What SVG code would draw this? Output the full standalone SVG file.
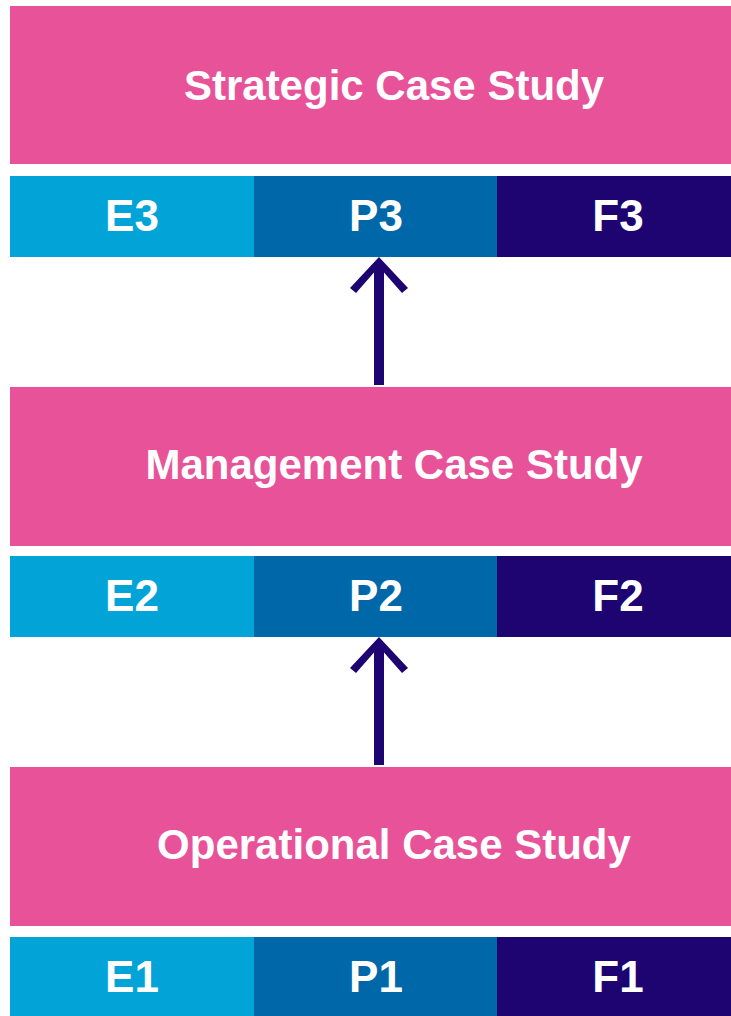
<svg xmlns="http://www.w3.org/2000/svg" width="731" height="1016" viewBox="0 0 731 1016">
<style>
.pink{fill:#E85299}
.e{fill:#02A4D8}
.p{fill:#0068A9}
.f{fill:#1E0471}
.t{font-family:"Liberation Sans",Arial,sans-serif;font-weight:bold;fill:#FFFFFF;text-anchor:middle}
.big{font-size:42px}
.small{font-size:44px}
.arrow{fill:#1E0471}
</style>
<defs>
<path id="arr" d="M379,0 L408,31 L402,36 L384,15.5 L384,128 L374,128 L374,15.5 L356,36 L350,31 Z"/>
</defs>
<rect width="731" height="1016" fill="#FFFFFF"/>
<g id="strategic">
<rect class="pink" x="10" y="6" width="721" height="158"/>
<text class="t big" x="394" y="100">Strategic Case Study</text>
</g>
<g id="level3">
<rect class="e" x="10" y="176" width="244" height="81"/>
<rect class="p" x="254" y="176" width="243" height="81"/>
<rect class="f" x="497" y="176" width="234" height="81"/>
<text class="t small" x="132" y="231">E3</text>
<text class="t small" x="376" y="231">P3</text>
<text class="t small" x="618" y="231">F3</text>
</g>
<g id="management">
<rect class="pink" x="10" y="387" width="721" height="159"/>
<text class="t big" x="394" y="479">Management Case Study</text>
</g>
<g id="level2">
<rect class="e" x="10" y="556" width="244" height="81"/>
<rect class="p" x="254" y="556" width="243" height="81"/>
<rect class="f" x="497" y="556" width="234" height="81"/>
<text class="t small" x="132" y="611">E2</text>
<text class="t small" x="376" y="611">P2</text>
<text class="t small" x="618" y="611">F2</text>
</g>
<g id="operational">
<rect class="pink" x="10" y="767" width="721" height="159"/>
<text class="t big" x="394" y="859">Operational Case Study</text>
</g>
<g id="level1">
<rect class="e" x="10" y="937" width="244" height="81"/>
<rect class="p" x="254" y="937" width="243" height="81"/>
<rect class="f" x="497" y="937" width="234" height="81"/>
<text class="t small" x="132" y="992">E1</text>
<text class="t small" x="376" y="992">P1</text>
<text class="t small" x="618" y="992">F1</text>
</g>
<g id="connectors">
<use href="#arr" class="arrow" transform="translate(0,257)"/>
<use href="#arr" class="arrow" transform="translate(0,637)"/>
</g>
</svg>
